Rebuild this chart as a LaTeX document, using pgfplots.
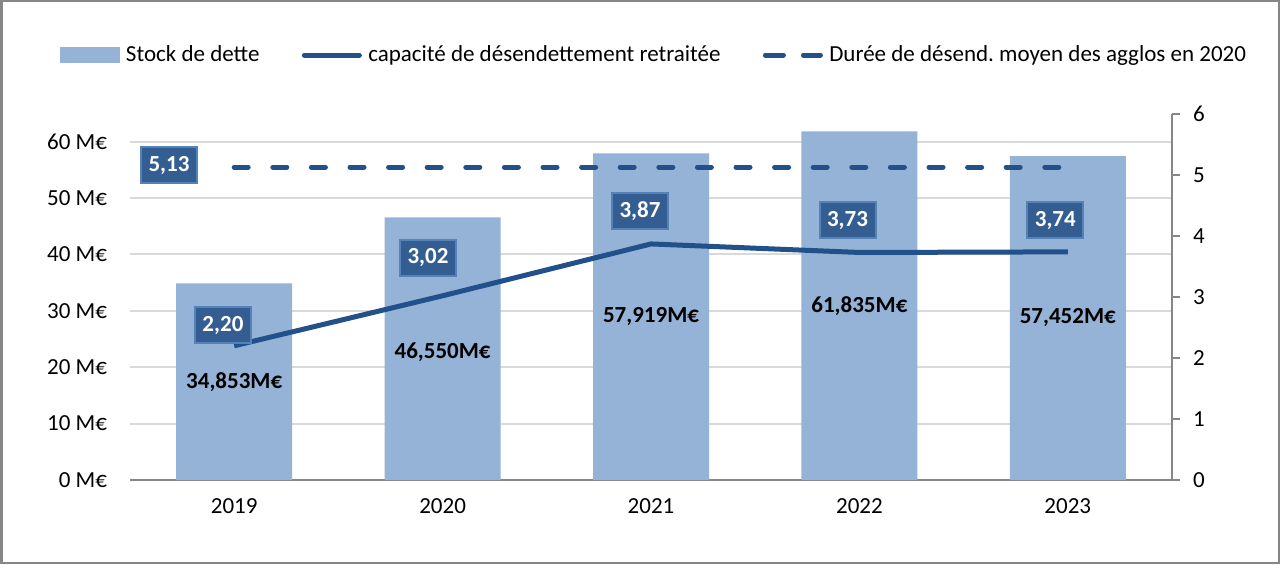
\documentclass[border=0pt]{standalone}
\usepackage{pgfplots}
\pgfplotsset{compat=1.18}
\usepackage{fontspec}
\setmainfont{Carlito}
\frenchspacing
\definecolor{barblue}{HTML}{95B3D7}
\definecolor{linecol}{HTML}{21508A}
\definecolor{boxfill}{HTML}{345E92}
\definecolor{boxdraw}{HTML}{5582B8}
\definecolor{gridgray}{HTML}{D9D9D9}
\definecolor{axisgray}{HTML}{868686}
\pgfplotsset{
  barleg/.style={legend image code/.code={\fill[barblue] (0pt,-4pt) rectangle (30pt,4pt); \path (33pt,0pt);}},
  lineleg/.style={legend image code/.code={\draw[linecol, line width=2.5pt, line cap=round] (1.25pt,0pt)--(28.75pt,0pt); \path (0pt,0pt) (33pt,0pt);}},
  dashleg/.style={legend image code/.code={\draw[linecol, line width=2.5pt, line cap=round, dash pattern=on 9pt off 10pt] (1.25pt,0pt)--(28.75pt,0pt); \path (0pt,0pt) (33pt,0pt);}},
}
\begin{document}
\begin{tikzpicture}[font=\fontsize{11.5}{14}\selectfont,
  lbl/.style={fill=boxfill, draw=boxdraw, line width=1pt, text=white, font=\fontsize{11.5}{14}\selectfont\bfseries, minimum width=28pt, minimum height=18pt, inner sep=0pt}]
\path[use as bounding box] (0,0) rectangle (640pt,282pt);
\fill[white] (0,0) rectangle (640pt,282pt);
\begin{axis}[
  at={(65pt,42pt)}, anchor=south west,
  scale only axis, width=521pt, height=183pt,
  xmin=-0.5, xmax=4.5, ymin=0, ymax=64.9,
  axis x line*=bottom, axis y line*=left,
  x axis line style={-, axisgray, line width=1pt},
  y axis line style={draw=none},
  xtick={0,...,4}, xticklabels={2019,2020,2021,2022,2023},
  ytick={0,10,...,60}, yticklabels={0 M€,10 M€,20 M€,30 M€,40 M€,50 M€,60 M€},
  major tick length=0pt,
  ymajorgrids, grid style={gridgray, line width=1pt},
  xticklabel style={yshift=-6pt},
  yticklabel style={xshift=-8pt},
  legend style={at={(-0.06718,1.1612)}, anchor=west, draw=none, fill=none, inner sep=0pt, outer sep=0pt, legend columns=3, nodes={inner sep=0pt}, /tikz/every even column/.append style={column sep=21pt}},
  legend cell align=left,
]
\addplot[ybar, bar width=58pt, fill=barblue, draw=none, barleg] coordinates {(0,34.853) (1,46.550) (2,57.919) (3,61.835) (4,57.452)};
\addlegendentry{Stock de dette}
\addlegendimage{lineleg}
\addlegendentry{capacité de désendettement retraitée}
\addlegendimage{dashleg}
\addlegendentry{Durée de désend. moyen des agglos en 2020}
\node[font=\fontsize{11.5}{14}\selectfont\bfseries] at (axis cs:0,17.43) {34,853M€};
\node[font=\fontsize{11.5}{14}\selectfont\bfseries] at (axis cs:1,22.6) {46,550M€};
\node[font=\fontsize{11.5}{14}\selectfont\bfseries] at (axis cs:2,28.96) {57,919M€};
\node[font=\fontsize{11.5}{14}\selectfont\bfseries] at (axis cs:3,30.92) {61,835M€};
\node[font=\fontsize{11.5}{14}\selectfont\bfseries] at (axis cs:4,28.73) {57,452M€};
\end{axis}
\begin{axis}[
  at={(65pt,42pt)}, anchor=south west,
  scale only axis, width=521pt, height=183pt,
  xmin=-0.5, xmax=4.5, ymin=0, ymax=6,
  axis x line=none, axis y line*=right,
  y axis line style={-, axisgray, line width=1pt},
  ytick={0,...,6}, tick align=outside, major tick length=4pt,
  ytick style={axisgray, line width=1pt},
  yticklabel style={xshift=3pt},
  /pgf/number format/assume math mode=true,
]
\addplot[linecol, line width=2.5pt, line join=round, forget plot] coordinates {(0,2.20) (1,3.02) (2,3.87) (3,3.73) (4,3.74)};
\addplot[linecol, line width=2.5pt, line cap=round, dash pattern=on 7pt off 12.3pt, forget plot] coordinates {(0,5.13) (4,5.13)};
\node[lbl] at (axis cs:-0.313,5.16) {5,13};
\node[lbl] at (axis cs:-0.054,2.54) {2,20};
\node[lbl] at (axis cs:0.930,3.64) {3,02};
\node[lbl] at (axis cs:1.947,4.41) {3,87};
\node[lbl] at (axis cs:2.943,4.26) {3,73};
\node[lbl] at (axis cs:3.94,4.26) {3,74};
\end{axis}
\draw[axisgray, line width=1.25pt] (0.625pt,0.625pt) rectangle (639.375pt,281.375pt);
\end{tikzpicture}
\end{document}
